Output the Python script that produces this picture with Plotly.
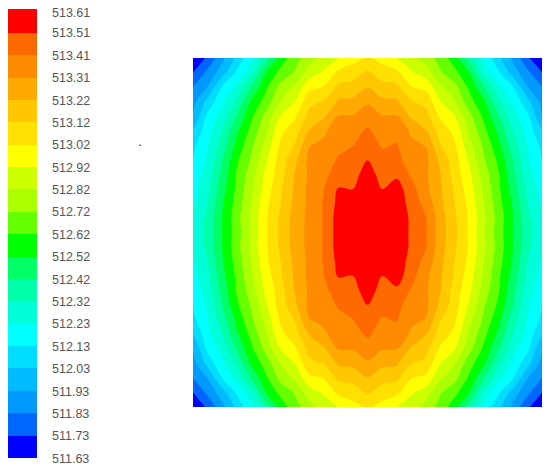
import plotly.graph_objects as go

# legend labels, top one is the max
tick_labels = ['513.61', '513.51', '513.41', '513.31', '513.22', '513.12', '513.02',
               '512.92', '512.82', '512.72', '512.62', '512.52', '512.42', '512.32',
               '512.23', '512.13', '512.03', '511.93', '511.83', '511.73', '511.63']
# top tick sits a touch low so the page margin does not cut its label
tick_values = [513.60, 513.511, 513.412, 513.313, 513.214, 513.115, 513.016,
               512.917, 512.818, 512.719, 512.62, 512.521, 512.422, 512.323,
               512.224, 512.125, 512.026, 511.927, 511.828, 511.729, 511.63]

# band colours, lowest band first
band_colors = ['#0000ff', '#0066ff', '#0099ff', '#00bbff', '#00ddff', '#00ffff', '#00ffd8',
               '#00ffaa', '#00ff66', '#00ff00', '#66ff00', '#aaff00', '#ccff00', '#ffff00',
               '#ffe000', '#ffc800', '#ffaa00', '#ff8c00', '#ff6a00', '#ff0000']

# values, top row first
row_00 = [511.63, 511.75, 511.90, 512.05, 512.20, 512.37, 512.56, 512.68, 512.78, 512.86, 512.92, 512.98, 513.03, 512.98, 512.92, 512.86, 512.78, 512.68, 512.56, 512.37, 512.20, 512.05, 511.90, 511.75, 511.63]
row_01 = [511.73, 511.85, 511.98, 512.14, 512.28, 512.52, 512.65, 512.73, 512.87, 512.93, 513.04, 513.07, 513.13, 513.07, 513.04, 512.93, 512.87, 512.73, 512.65, 512.52, 512.28, 512.14, 511.98, 511.85, 511.73]
row_02 = [511.83, 511.93, 512.13, 512.25, 512.43, 512.60, 512.75, 512.84, 512.99, 513.02, 513.14, 513.15, 513.21, 513.15, 513.14, 513.02, 512.99, 512.84, 512.75, 512.60, 512.43, 512.25, 512.13, 511.93, 511.83]
row_03 = [511.89, 512.06, 512.20, 512.34, 512.54, 512.66, 512.82, 512.92, 513.09, 513.12, 513.23, 513.24, 513.30, 513.24, 513.23, 513.12, 513.09, 512.92, 512.82, 512.66, 512.54, 512.34, 512.20, 512.06, 511.89]
row_04 = [511.93, 512.15, 512.26, 512.43, 512.60, 512.75, 512.92, 513.00, 513.15, 513.20, 513.32, 513.32, 513.36, 513.32, 513.32, 513.20, 513.15, 513.00, 512.92, 512.75, 512.60, 512.43, 512.26, 512.15, 511.93]
row_05 = [512.03, 512.19, 512.32, 512.50, 512.65, 512.80, 512.99, 513.07, 513.22, 513.30, 513.35, 513.37, 513.43, 513.36, 513.37, 513.30, 513.22, 513.07, 512.99, 512.80, 512.65, 512.50, 512.32, 512.19, 512.03]
row_06 = [512.10, 512.22, 512.37, 512.55, 512.70, 512.85, 513.03, 513.12, 513.31, 513.33, 513.39, 513.41, 513.47, 513.40, 513.42, 513.33, 513.31, 513.12, 513.03, 512.85, 512.70, 512.55, 512.37, 512.22, 512.10]
row_07 = [512.13, 512.24, 512.42, 512.60, 512.73, 512.90, 513.06, 513.19, 513.34, 513.37, 513.42, 513.45, 513.51, 513.45, 513.44, 513.37, 513.34, 513.19, 513.06, 512.90, 512.73, 512.60, 512.42, 512.24, 512.13]
row_08 = [512.16, 512.27, 512.45, 512.63, 512.77, 512.94, 513.07, 513.22, 513.33, 513.39, 513.45, 513.48, 513.55, 513.48, 513.49, 513.40, 513.33, 513.22, 513.07, 512.94, 512.77, 512.63, 512.45, 512.27, 512.16]
row_09 = [512.18, 512.30, 512.48, 512.64, 512.80, 512.96, 513.10, 513.23, 513.34, 513.41, 513.52, 513.51, 513.58, 513.51, 513.56, 513.45, 513.34, 513.23, 513.10, 512.96, 512.80, 512.64, 512.48, 512.30, 512.18]
row_10 = [512.21, 512.32, 512.51, 512.66, 512.82, 512.99, 513.11, 513.24, 513.34, 513.42, 513.54, 513.58, 513.61, 513.58, 513.58, 513.47, 513.38, 513.24, 513.11, 512.99, 512.82, 512.66, 512.51, 512.32, 512.21]
row_11 = [512.23, 512.35, 512.52, 512.68, 512.84, 513.00, 513.13, 513.26, 513.34, 513.42, 513.56, 513.60, 513.61, 513.60, 513.60, 513.49, 513.42, 513.26, 513.13, 513.00, 512.84, 512.68, 512.52, 512.35, 512.23]
row_12 = [512.24, 512.36, 512.52, 512.67, 512.83, 513.00, 513.14, 513.26, 513.34, 513.42, 513.56, 513.61, 513.61, 513.61, 513.60, 513.49, 513.42, 513.26, 513.14, 513.00, 512.83, 512.67, 512.52, 512.36, 512.24]
row_13 = [512.23, 512.35, 512.52, 512.68, 512.84, 513.00, 513.13, 513.26, 513.34, 513.42, 513.56, 513.60, 513.61, 513.60, 513.60, 513.49, 513.42, 513.26, 513.13, 513.00, 512.84, 512.68, 512.52, 512.35, 512.23]
row_14 = [512.21, 512.32, 512.51, 512.66, 512.82, 512.99, 513.11, 513.24, 513.34, 513.42, 513.54, 513.58, 513.61, 513.58, 513.58, 513.47, 513.38, 513.24, 513.11, 512.99, 512.82, 512.66, 512.51, 512.32, 512.21]
row_15 = [512.18, 512.30, 512.48, 512.64, 512.80, 512.96, 513.10, 513.23, 513.34, 513.41, 513.52, 513.51, 513.58, 513.51, 513.56, 513.45, 513.34, 513.23, 513.10, 512.96, 512.80, 512.64, 512.48, 512.30, 512.18]
row_16 = [512.16, 512.27, 512.45, 512.63, 512.77, 512.94, 513.07, 513.22, 513.33, 513.39, 513.45, 513.48, 513.55, 513.48, 513.49, 513.40, 513.33, 513.22, 513.07, 512.94, 512.77, 512.63, 512.45, 512.27, 512.16]
row_17 = [512.13, 512.24, 512.42, 512.60, 512.73, 512.90, 513.06, 513.19, 513.34, 513.37, 513.42, 513.45, 513.51, 513.45, 513.44, 513.37, 513.34, 513.19, 513.06, 512.90, 512.73, 512.60, 512.42, 512.24, 512.13]
row_18 = [512.10, 512.22, 512.37, 512.55, 512.70, 512.85, 513.03, 513.12, 513.31, 513.33, 513.39, 513.41, 513.47, 513.40, 513.42, 513.33, 513.31, 513.12, 513.03, 512.85, 512.70, 512.55, 512.37, 512.22, 512.10]
row_19 = [512.03, 512.19, 512.32, 512.50, 512.65, 512.80, 512.99, 513.07, 513.22, 513.30, 513.35, 513.37, 513.43, 513.36, 513.37, 513.30, 513.22, 513.07, 512.99, 512.80, 512.65, 512.50, 512.32, 512.19, 512.03]
row_20 = [511.93, 512.15, 512.26, 512.43, 512.60, 512.75, 512.92, 513.00, 513.15, 513.20, 513.32, 513.32, 513.36, 513.32, 513.32, 513.20, 513.15, 513.00, 512.92, 512.75, 512.60, 512.43, 512.26, 512.15, 511.93]
row_21 = [511.89, 512.06, 512.20, 512.34, 512.54, 512.66, 512.82, 512.92, 513.09, 513.12, 513.23, 513.24, 513.30, 513.24, 513.23, 513.12, 513.09, 512.92, 512.82, 512.66, 512.54, 512.34, 512.20, 512.06, 511.89]
row_22 = [511.83, 511.93, 512.13, 512.25, 512.43, 512.60, 512.75, 512.84, 512.99, 513.02, 513.14, 513.15, 513.21, 513.15, 513.14, 513.02, 512.99, 512.84, 512.75, 512.60, 512.43, 512.25, 512.13, 511.93, 511.83]
row_23 = [511.73, 511.85, 511.98, 512.14, 512.28, 512.52, 512.65, 512.73, 512.87, 512.93, 513.04, 513.07, 513.13, 513.07, 513.04, 512.93, 512.87, 512.73, 512.65, 512.52, 512.28, 512.14, 511.98, 511.85, 511.73]
row_24 = [511.63, 511.75, 511.90, 512.05, 512.20, 512.37, 512.56, 512.68, 512.78, 512.86, 512.92, 512.98, 513.03, 512.98, 512.92, 512.86, 512.78, 512.68, 512.56, 512.37, 512.20, 512.05, 511.90, 511.75, 511.63]

rows = [row_00, row_01, row_02, row_03, row_04, row_05, row_06, row_07, row_08, row_09,
        row_10, row_11, row_12, row_13, row_14, row_15, row_16, row_17, row_18, row_19,
        row_20, row_21, row_22, row_23, row_24]

# the page keeps an 8px body margin, so the figure is 8px short each way
PAGE = 8
W = 550 - PAGE
H = 470 - PAGE
n = len(band_colors)
colorscale = [[i / (n - 1), c] for i, c in enumerate(band_colors)]

fig = go.Figure(go.Contour(
    z=rows,
    zmin=511.63,
    zmax=513.616,
    colorscale=colorscale,
    contours=dict(start=511.729, end=513.512, size=0.099, coloring='fill', showlines=False),
    line=dict(width=0, smoothing=1),
    hoverinfo='skip',
    colorbar=dict(
        x=0, xanchor='left', xpad=0,
        y=1 - (9.3 - PAGE) / H, yanchor='top', ypad=0,
        thickness=29, thicknessmode='pixels',
        len=449, lenmode='pixels',
        outlinewidth=0,
        tickmode='array', tickvals=tick_values, ticktext=tick_labels,
        ticks='outside', ticklen=13, tickcolor='rgba(0,0,0,0)',
        ticklabeloverflow='allow',
        tickfont=dict(family='Liberation Sans', size=12.5, color='#555555'),
    ),
))

fig.update_layout(
    width=W,
    height=H,
    margin=dict(l=0, r=0, t=0, b=0),
    paper_bgcolor='white',
    plot_bgcolor='white',
    xaxis=dict(visible=False, domain=[(193 - PAGE) / W, (542 - PAGE) / W], range=[0, 24]),
    yaxis=dict(visible=False, domain=[1 - (407 - PAGE) / H, 1 - (58 - PAGE) / H], range=[24, 0]),
)

# stray speck next to the legend
fig.add_shape(type='rect', xref='paper', yref='paper',
              x0=(139.5 - PAGE) / W, x1=(141 - PAGE) / W,
              y0=1 - (146 - PAGE) / H, y1=1 - (144.5 - PAGE) / H,
              fillcolor='#555555', line_width=0)

fig.write_html("out.html")
